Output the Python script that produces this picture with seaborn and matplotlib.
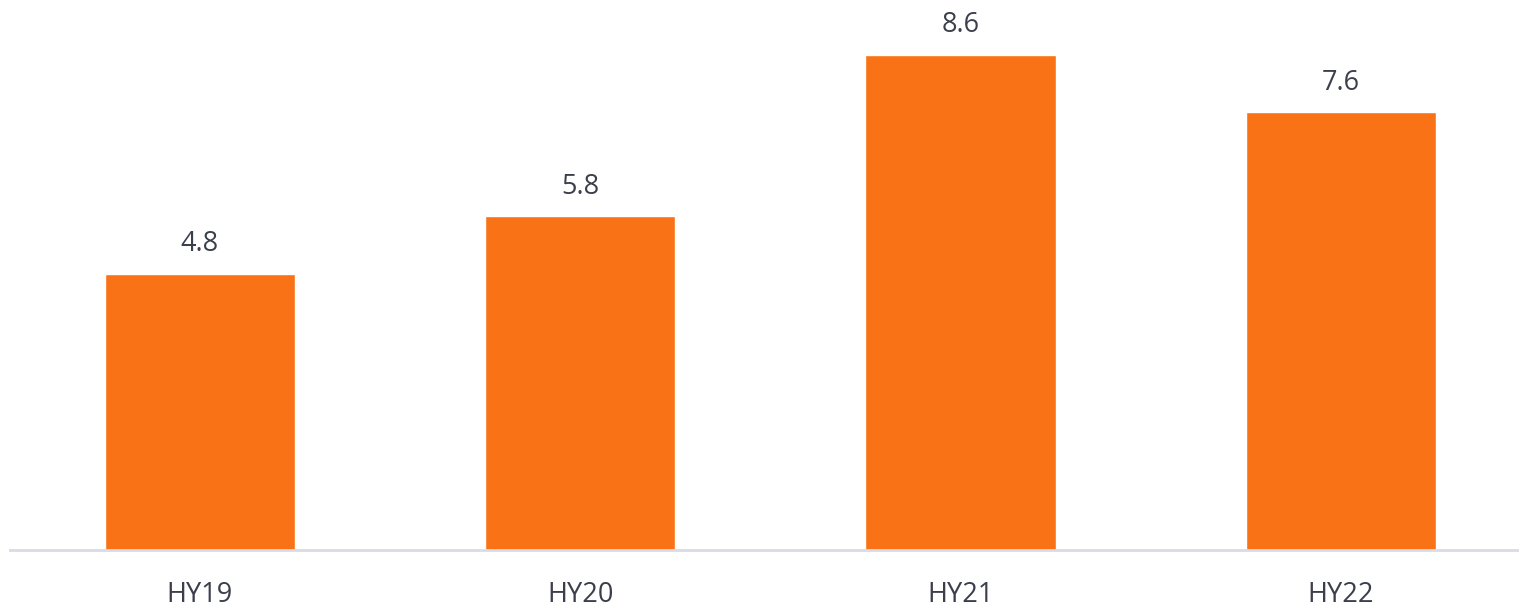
import matplotlib
matplotlib.use("Agg")
import matplotlib.pyplot as plt
import seaborn as sns
import pandas as pd

periods = ["HY19", "HY20", "HY21", "HY22"]
values = [4.8, 5.8, 8.6, 7.6]

df = pd.DataFrame({"period": periods, "value": values})

sns.set_style("white")
plt.rcParams["font.family"] = ["Open Sans", "DejaVu Sans"]

text_color = "#3b3f4c"
fig = plt.figure(figsize=(15.19, 6.06), dpi=100)
# axes placed to match reference pixel layout
ax = fig.add_axes([9.5 / 1519, (606 - 550) / 606, 1509.5 / 1519, 550 / 606])

sns.barplot(data=df, x="period", y="value", color="#f97316", width=0.5,
            saturation=1, ax=ax)

ax.set_xlim(-0.5, 3.468)
ax.set_ylim(0, 9.55)
ax.set_xlabel("")
ax.set_ylabel("")
ax.set_yticks([])

for s in ["top", "right", "left"]:
    ax.spines[s].set_visible(False)
ax.spines["bottom"].set_color("#d9dbe6")
ax.spines["bottom"].set_linewidth(2)

ax.tick_params(axis="x", length=0, pad=22, labelsize=19.5, labelcolor=text_color)

for i, v in enumerate(values):
    ax.annotate(f"{v:.1f}", (i, v), xytext=(0, 11), textcoords="offset points",
                ha="center", va="bottom", fontsize=19.5, color=text_color)

fig.savefig("out.png", dpi=100)
